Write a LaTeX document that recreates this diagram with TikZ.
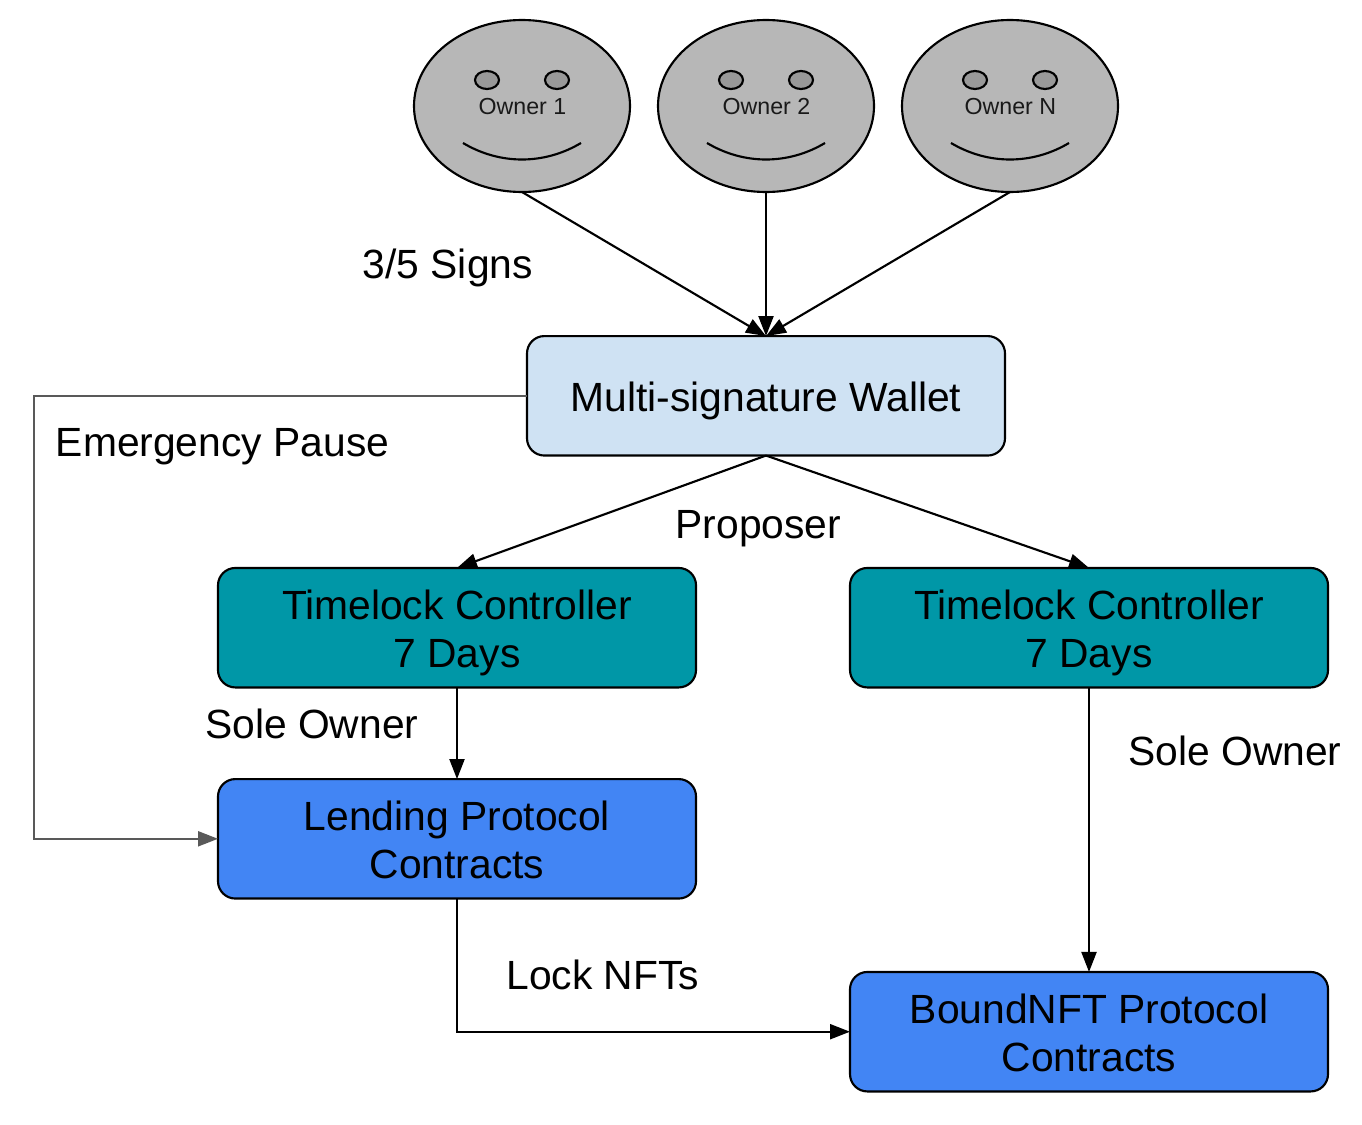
\documentclass[tikz,border=0pt]{standalone}
\usepackage{fontspec}
\setmainfont{Liberation Sans}
\usetikzlibrary{arrows.meta,shapes.geometric}
\definecolor{facegray}{HTML}{B7B7B7}
\definecolor{eyegray}{HTML}{999999}
\definecolor{walletblue}{HTML}{CFE2F3}
\definecolor{tealbox}{HTML}{0097A7}
\definecolor{protoblue}{HTML}{4285F4}
\definecolor{linegray}{HTML}{595959}
\newcommand{\firstlinestrut}{\rule{0pt}{23.8pt}}
\tikzset{
  lineink/.style={line width=1.6pt},
  face/.style={shape=ellipse,draw=black,lineink,fill=facegray,minimum width=162pt,minimum height=129pt,inner sep=0pt,outer sep=0pt},
  eye/.style={shape=ellipse,draw=black,lineink,fill=eyegray,minimum width=18pt,minimum height=13.5pt,inner sep=0pt,outer sep=0pt},
  facetext/.style={font=\fontsize{17.4}{20}\selectfont,text=black!90,inner sep=0pt},
  box/.style={shape=rectangle,rounded corners=13pt,draw=black,lineink,minimum width=358.5pt,minimum height=89.6pt,inner sep=0pt,outer sep=0pt,align=center,font=\fontsize{30.6}{36}\selectfont},
  lbl/.style={font=\fontsize{30.6}{36}\selectfont,inner sep=0pt,anchor=base},
  conn/.style={lineink,draw=black,-{Triangle[length=15pt,width=11.25pt]}},
  grayconn/.style={lineink,draw=linegray,-{Triangle[length=15pt,width=11.25pt]}},
}
\begin{document}
\begin{tikzpicture}[x=0.75pt,y=-0.75pt]
\useasboundingbox (0,0) rectangle (1362,1124);
\foreach \n/\c/\t in {1/522/Owner 1,2/766/Owner 2,3/1010/Owner N}{
  \node[face] (o\n) at (\c,106) {};
  \node[eye] (eyel\n) at (\c-35,80) {};
  \node[eye] (eyer\n) at (\c+35,80) {};
  \node[facetext] (t\n) at (\c+0.4,106.5) {\t};
  \draw[lineink] (\c-59,143) .. controls (\c-22,165) and (\c+22,165) .. (\c+59,143);
}
\node[box,fill=walletblue,text height=23pt,text depth=0pt] (multi) at (766,395.8) {Multi-signature Wallet};
\node[box,fill=tealbox] (tl1) at (457,627.7) {\firstlinestrut Timelock Controller\\\smash{7 Days}};
\node[box,fill=tealbox] (tl2) at (1089,627.7) {\firstlinestrut Timelock Controller\\\smash{7 Days}};
\node[box,fill=protoblue] (lend) at (457,838.8) {\firstlinestrut Lending Protocol\\Contracts};
\node[box,fill=protoblue] (bound) at (1089,1031.7) {\firstlinestrut BoundNFT Protocol\\Contracts};
\node[lbl] (signs) at (447.8,278) {3/5 Signs};
\node[lbl] (pause) at (222.5,456) {Emergency Pause};
\node[lbl] (prop) at (758.4,538.5) {Proposer};
\node[lbl] (sole1) at (311.8,738) {Sole Owner};
\node[lbl] (sole2) at (1235,765) {Sole Owner};
\node[lbl] (lock) at (602.8,989) {Lock NFTs};
\coordinate (corner) at (34,395.8);
\draw[conn] (o1.south) -- (multi.north);
\draw[conn] (o2.south) -- (multi.north);
\draw[conn] (o3.south) -- (multi.north);
\draw[conn] (multi.south) -- (tl1.north);
\draw[conn] (multi.south) -- (tl2.north);
\draw[conn] (tl1.south) -- (lend.north);
\draw[conn] (tl2.south) -- (bound.north);
\draw[conn] (lend.south) |- (bound.west);
\draw[grayconn] (multi.west) -- (corner) |- (lend.west);
\end{tikzpicture}
\end{document}
